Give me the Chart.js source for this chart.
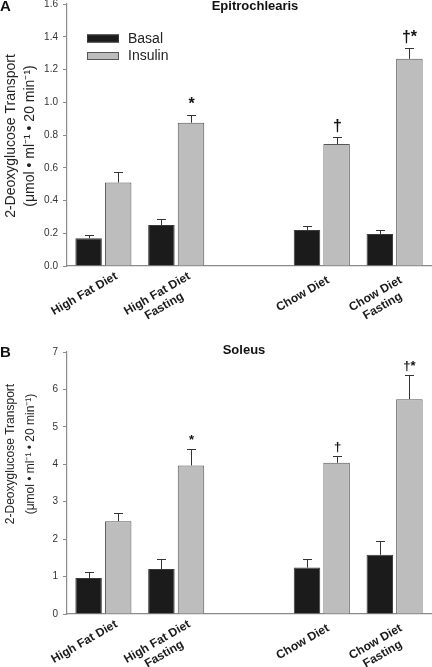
<!DOCTYPE html>
<html>
<head>
<meta charset="utf-8">
<script src="https://cdn.jsdelivr.net/npm/chart.js@4.4.1/dist/chart.umd.min.js"></script>
<style>
  html, body { margin: 0; padding: 0; background: #fff; }
  #wrap { position: relative; width: 432px; height: 667px; overflow: hidden; }
  canvas { position: absolute; left: 0; }
  #chartA { top: 0; }
  #chartB { top: 320px; }
</style>
</head>
<body>
<div id="wrap">
  <canvas id="chartA" width="432" height="320"></canvas>
  <canvas id="chartB" width="432" height="347"></canvas>
</div>
<script>
// categories (the empty one is the gap between the diet groups)
const categories = [['High Fat Diet'], ['High Fat Diet', 'Fasting'], [''], ['Chow Diet'], ['Chow Diet', 'Fasting']];

// Panel A - epitrochlearis
const basalA = [0.17, 0.25, null, 0.22, 0.195];
const basalErrA = [0.02, 0.035, null, 0.025, 0.027];
const insulinA = [0.51, 0.875, null, 0.745, 1.265];
const insulinErrA = [0.067, 0.05, null, 0.045, 0.068];
const yTicksA = ['0.0', '0.2', '0.4', '0.6', '0.8', '1.0', '1.2', '1.4', '1.6'];

// Panel B - soleus
const basalB = [0.96, 1.2, null, 1.24, 1.58];
const basalErrB = [0.15, 0.27, null, 0.24, 0.38];
const insulinB = [2.48, 3.97, null, 4.04, 5.74];
const insulinErrB = [0.22, 0.43, null, 0.18, 0.64];
const yTicksB = ['0', '1', '2', '3', '4', '5', '6', '7'];

// significance marks above the insulin bars
const insulinMarks = ['', '*', '', '\u2020', '\u2020*'];

const yTitle = ['2-Deoxyglucose Transport', '(\u03bcmol \u2022 ml\u207b\u00b9 \u2022 20 min\u207b\u00b9)'];

const FONT = "Arial, 'Liberation Sans', Helvetica, sans-serif";
const AXIS = '#8a8a8a';

// error bars (upper only) + marks
const errorBars = {
  id: 'errorBars',
  afterDatasetsDraw(chart, args, opts) {
    const { ctx } = chart;
    const yScale = chart.scales.y;
    ctx.save();
    chart.data.datasets.forEach((ds, di) => {
      const meta = chart.getDatasetMeta(di);
      meta.data.forEach((bar, i) => {
        const v = ds.data[i];
        const e = ds.errors ? ds.errors[i] : null;
        if (v == null) return;
        const x = Math.round(bar.x) + 0.5;
        const yTop = yScale.getPixelForValue(v + (e || 0));
        if (e) {
          const y0 = yScale.getPixelForValue(v);
          ctx.strokeStyle = '#333';
          ctx.lineWidth = 1;
          ctx.beginPath();
          ctx.moveTo(x, y0);
          ctx.lineTo(x, Math.round(yTop) + 0.5);
          ctx.moveTo(x - 4.5, Math.round(yTop) + 0.5);
          ctx.lineTo(x + 4.5, Math.round(yTop) + 0.5);
          ctx.stroke();
        }
        if (ds.marks && ds.marks[i]) {
          ctx.fillStyle = '#111';
          ctx.font = 'bold ' + opts.markSize + 'px ' + FONT;
          ctx.textAlign = 'center';
          ctx.textBaseline = 'alphabetic';
          ctx.fillText(ds.marks[i], x, yTop - opts.markGap);
        }
      });
    });
    ctx.restore();
  }
};

// rotated, centred category labels under the x axis
const xLabels = {
  id: 'xLabels',
  afterDraw(chart) {
    const { ctx } = chart;
    const xs = chart.scales.x;
    ctx.save();
    ctx.fillStyle = '#1a1a1a';
    ctx.font = 'bold 12px ' + FONT;
    ctx.textAlign = 'center';
    ctx.textBaseline = 'middle';
    chart.data.labels.forEach((lab, i) => {
      const x = xs.getPixelForTick(i);
      ctx.save();
      ctx.translate(x - 19, xs.top + 28);
      ctx.rotate(-Math.PI / 6);
      lab.forEach((t, j) => ctx.fillText(t, 0, j * 14));
      ctx.restore();
    });
    ctx.restore();
  }
};

// panel letter, title, y title, legend
const panelText = {
  id: 'panelText',
  afterDraw(chart, args, o) {
    const { ctx } = chart;
    ctx.save();
    ctx.fillStyle = '#111';
    ctx.textBaseline = 'middle';
    ctx.font = 'bold 15px ' + FONT;
    ctx.textAlign = 'left';
    ctx.fillText(o.letter, 0, o.letterY);
    ctx.font = 'bold 13px ' + FONT;
    ctx.textAlign = 'center';
    ctx.fillText(o.title, o.titleX, o.titleY);

    ctx.fillStyle = '#222';
    ctx.font = o.yTitleSize + 'px ' + FONT;
    yTitle.forEach((t, j) => {
      ctx.save();
      ctx.translate(o.yTitleX[j], o.yTitleY);
      ctx.rotate(-Math.PI / 2);
      ctx.fillText(t, 0, 0);
      ctx.restore();
    });

    if (o.legend) {
      ctx.font = '14px ' + FONT;
      ctx.textAlign = 'left';
      chart.data.datasets.forEach((ds, di) => {
        const y = 34.5 + di * 17.5;
        ctx.fillStyle = ds.backgroundColor;
        ctx.fillRect(87, y, 32, 8);
        ctx.strokeStyle = ds.borderColor;
        ctx.lineWidth = 1;
        ctx.strokeRect(87.5, y + 0.5, 31, 7);
        ctx.fillStyle = '#222';
        ctx.fillText(ds.label, 128, y + 4.5);
      });
    }
    ctx.restore();
  }
};

function makeChart(id, d) {
  return new Chart(document.getElementById(id), {
    type: 'bar',
    data: {
      labels: categories,
      datasets: [
        {
          label: 'Basal',
          data: d.basal,
          errors: d.basalErr,
          backgroundColor: '#1b1b1b',
          borderColor: '#3a3a3a',
          borderWidth: 1,
          categoryPercentage: 0.813,
          barPercentage: 0.895
        },
        {
          label: 'Insulin',
          data: d.insulin,
          errors: d.insulinErr,
          marks: insulinMarks,
          backgroundColor: '#bdbdbd',
          borderColor: '#555',
          borderWidth: 1,
          categoryPercentage: 0.813,
          barPercentage: 0.895
        }
      ]
    },
    options: {
      responsive: false,
      animation: false,
      devicePixelRatio: 1,
      layout: { padding: { top: d.padTop, right: 1, bottom: 0, left: 0 } },
      plugins: {
        legend: { display: false },
        tooltip: { enabled: false },
        errorBars: { markSize: d.markSize, markGap: d.markGap },
        panelText: d.text
      },
      scales: {
        x: {
          ticks: { display: false },
          grid: { display: false },
          border: { display: true, color: AXIS, width: 1.2 },
          afterFit(s) { s.height = d.xHeight; }
        },
        y: {
          min: 0,
          max: d.max,
          ticks: {
            stepSize: d.step,
            callback: (v, i) => d.ticks[i],
            color: '#333',
            font: { size: 10, family: FONT },
            padding: 5
          },
          grid: { display: true, drawOnChartArea: false, drawTicks: true, tickLength: 4, color: AXIS, lineWidth: 1 },
          border: { display: true, color: AXIS, width: 1.2 },
          afterFit(s) { s.width = 67; s.paddingTop = 0; s.paddingBottom = 0; }
        }
      }
    },
    plugins: [errorBars, xLabels, panelText]
  });
}

makeChart('chartA', {
  basal: basalA, basalErr: basalErrA, insulin: insulinA, insulinErr: insulinErrA,
  ticks: yTicksA, max: 1.6, step: 0.2, padTop: 4, xHeight: 54,
  markSize: 16, markGap: 6,
  text: { letter: 'A', letterY: 7, title: 'Epitrochlearis', titleX: 255, titleY: 6,
          yTitleSize: 14, yTitleX: [11, 30.5], yTitleY: 136, legend: true }
});

makeChart('chartB', {
  basal: basalB, basalErr: basalErrB, insulin: insulinB, insulinErr: insulinErrB,
  ticks: yTicksB, max: 7, step: 1, padTop: 32, xHeight: 53,
  markSize: 13, markGap: 5,
  text: { letter: 'B', letterY: 33, title: 'Soleus', titleX: 244, titleY: 30,
          yTitleSize: 12, yTitleX: [11, 30.5], yTitleY: 134, legend: false }
});
</script>
</body>
</html>
